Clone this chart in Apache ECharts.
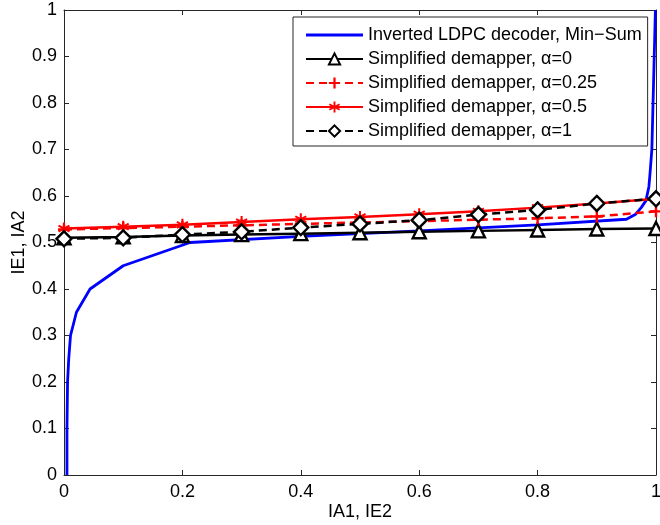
<!DOCTYPE html>
<html>
<head>
<meta charset="utf-8">
<script src="https://cdn.jsdelivr.net/npm/echarts@6/dist/echarts.min.js"></script>
<style>
  html, body { margin: 0; padding: 0; background: #fff; }
  #chart { width: 660px; height: 525px; }
</style>
</head>
<body>
<div id="chart"></div>
<script>
// x positions of the marked curves
const xMarks = [0, 0.1, 0.2, 0.3, 0.4, 0.5, 0.6, 0.7, 0.8, 0.9, 1];

// Simplified demapper curves
const alpha0 = [0.510, 0.512, 0.515, 0.517, 0.519, 0.521, 0.523, 0.525, 0.527, 0.529, 0.530];
const alpha025 = [0.528, 0.531, 0.534, 0.537, 0.540, 0.543, 0.546, 0.549, 0.552, 0.556, 0.567];
const alpha05 = [0.530, 0.534, 0.538, 0.544, 0.550, 0.555, 0.561, 0.567, 0.575, 0.584, 0.594];
const alpha1 = [0.508, 0.510, 0.517, 0.523, 0.532, 0.540, 0.548, 0.560, 0.570, 0.584, 0.594];

// Inverted LDPC decoder, Min-Sum (x, y)
const minSumX = [0.005, 0.005, 0.006, 0.008, 0.011, 0.021, 0.044, 0.1, 0.213, 0.4, 0.6, 0.8, 0.95, 0.965, 0.975, 0.983, 0.988, 0.990, 0.993, 0.995, 0.997, 0.999];
const minSumY = [0.0, 0.1, 0.2, 0.25, 0.3, 0.35, 0.4, 0.45, 0.5, 0.513, 0.525, 0.538, 0.55, 0.56, 0.575, 0.59, 0.62, 0.65, 0.7, 0.8, 0.9, 1.0];

const legendNames = [
    "Inverted LDPC decoder, Min\u2212Sum",
    "Simplified demapper, \u03b1=0",
    "Simplified demapper, \u03b1=0.25",
    "Simplified demapper, \u03b1=0.5",
    "Simplified demapper, \u03b1=1"
];

const pair = (xs, ys) => xs.map((x, i) => [x, ys[i]]);

const plusPath = "path://M4,0L6,0L6,4L10,4L10,6L6,6L6,10L4,10L4,6L0,6L0,4L4,4Z";
const starPath = "path://M4.2,0L5.8,0L5.8,3.6L8.9,1.8L9.7,3.2L6.6,5L9.7,6.8L8.9,8.2L5.8,6.4L5.8,10L4.2,10L4.2,6.4L1.1,8.2L0.3,6.8L3.4,5L0.3,3.2L1.1,1.8L4.2,3.6Z";
const barPath = "path://M0,0L57,0L57,2.8L0,2.8Z";

const font = "'Liberation Sans', Arial, Helvetica, sans-serif";
const axisColor = "#262626";

const chart = echarts.init(document.getElementById("chart"), null, { renderer: "canvas" });

const baseAxis = {
    type: "value",
    min: 0,
    max: 1,
    axisLine: { show: true, onZero: false, lineStyle: { color: axisColor, width: 1 } },
    axisTick: { show: true, inside: true, length: 5, lineStyle: { color: axisColor } },
    splitLine: { show: false }
};

chart.setOption({
    animation: false,
    backgroundColor: "#fff",
    grid: { left: 64, right: 4, top: 10, bottom: 50, containLabel: false, outerBoundsMode: "none" },
    xAxis: [
        Object.assign({}, baseAxis, {
            position: "bottom",
            interval: 0.2,
            name: "IA1, IE2",
            nameLocation: "middle",
            nameGap: 28,
            nameMoveOverlap: false,
            nameTextStyle: { fontFamily: font, fontSize: 18, color: "#000" },
            axisLabel: { margin: 8, fontFamily: font, fontSize: 18, color: "#000" }
        }),
        Object.assign({}, baseAxis, {
            position: "top",
            interval: 0.2,
            axisLabel: { show: false }
        })
    ],
    yAxis: [
        Object.assign({}, baseAxis, {
            position: "left",
            interval: 0.1,
            name: "IE1, IA2",
            nameLocation: "middle",
            nameGap: 36,
            nameMoveOverlap: false,
            nameTextStyle: { fontFamily: font, fontSize: 18, color: "#000" },
            axisLabel: { margin: 7, fontFamily: font, fontSize: 18, color: "#000" }
        }),
        Object.assign({}, baseAxis, {
            position: "right",
            interval: 0.1,
            axisLabel: { show: false }
        })
    ],
    legend: {
        orient: "vertical",
        left: 293,
        top: 17,
        backgroundColor: "#fff",
        borderColor: axisColor,
        borderWidth: 1,
        borderRadius: 0,
        padding: [9, 6, 6, 12],
        itemGap: 6,
        itemWidth: 57,
        itemHeight: 14,
        textStyle: { fontFamily: font, fontSize: 18, color: "#000" },
        data: [
            { name: legendNames[0], icon: barPath },
            legendNames[1],
            legendNames[2],
            legendNames[3],
            legendNames[4]
        ]
    },
    series: [
        {
            name: legendNames[0],
            type: "line",
            data: pair(minSumX, minSumY),
            showSymbol: false,
            symbol: "none",
            clip: false,
            lineStyle: { color: "#0000ff", width: 2.8 },
            itemStyle: { color: "#0000ff" }
        },
        {
            name: legendNames[1],
            type: "line",
            data: pair(xMarks, alpha0),
            symbol: "triangle",
            symbolSize: 13,
            clip: false,
            lineStyle: { color: "#000", width: 2.5 },
            itemStyle: { color: "#fff", borderColor: "#000", borderWidth: 2.4 }
        },
        {
            name: legendNames[2],
            type: "line",
            data: pair(xMarks, alpha025),
            symbol: plusPath,
            symbolSize: 12,
            clip: false,
            lineStyle: { color: "#ff0000", width: 2.5, type: [8, 5] },
            itemStyle: { color: "#ff0000" }
        },
        {
            name: legendNames[3],
            type: "line",
            data: pair(xMarks, alpha05),
            symbol: starPath,
            symbolSize: 12,
            clip: false,
            lineStyle: { color: "#ff0000", width: 2.5 },
            itemStyle: { color: "#ff0000" }
        },
        {
            name: legendNames[4],
            type: "line",
            data: pair(xMarks, alpha1),
            symbol: "diamond",
            symbolSize: 15,
            clip: false,
            lineStyle: { color: "#000", width: 2.5, type: [8, 5] },
            itemStyle: { color: "#fff", borderColor: "#000", borderWidth: 2.4 }
        }
    ]
});
</script>
</body>
</html>
